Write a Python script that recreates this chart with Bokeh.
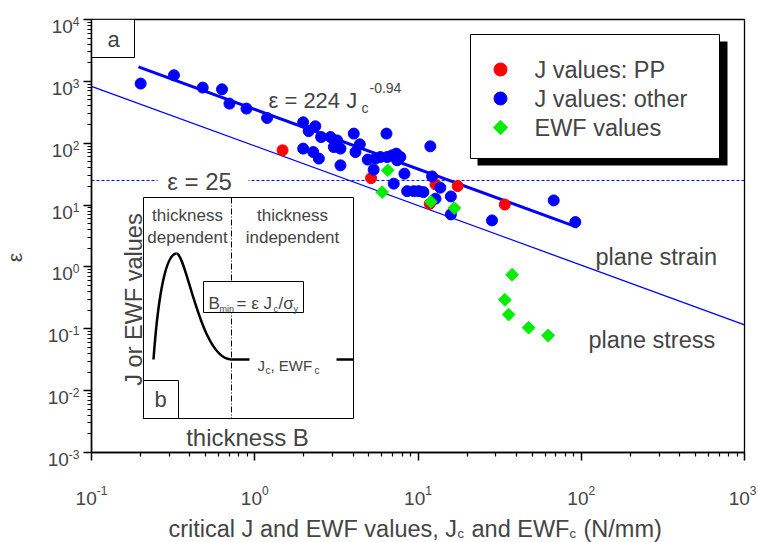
import numpy as np
from bokeh.plotting import figure
from bokeh.layouts import column, row
from bokeh.models import Range1d, LinearScale, LogScale, Label, FixedTicker, CustomJSTickFormatter
from bokeh.embed import file_html
from bokeh.resources import INLINE

# ---------------- data ----------------
j_other = [0.20, 0.32, 0.48, 0.63, 0.70, 0.89, 1.19, 1.98, 2.14, 2.35, 2.55, 2.91,
           3.20, 3.05, 3.35, 4.04, 4.40, 4.14, 1.98, 2.28, 2.47, 3.35, 6.41, 4.92,
           5.48, 5.88, 6.47, 6.94, 7.37, 7.45, 5.35, 7.10, 11.9, 7.80, 8.26, 12.2,
           8.58, 9.41, 10.1, 10.8, 13.7, 15.9, 12.8, 15.9, 67.8, 28.4, 92.0]
eps_other = [921, 1255, 793, 745, 437, 363, 256, 218, 157, 188, 126, 126,
             111, 86.8, 81.8, 143, 96, 72, 81.8, 72, 56.4, 43.9, 143, 54.3,
             56.4, 59.8, 59.8, 63.7, 67.9, 52.9, 37.4, 22.2, 89.1, 59.8, 32.2, 29.1,
             16.8, 16.8, 16.8, 16.2, 19.1, 13.8, 12.7, 7.07, 11.9, 5.65, 5.31]
j_pp = [1.48, 5.16, 12.8, 17.5, 11.8, 34.0]
eps_pp = [76.8, 27.3, 21.6, 20.3, 10.5, 10.2]
j_ewf = [6.52, 6.03, 12.0, 16.7, 37.7, 34.0, 35.9, 47.6, 62.6]
eps_ewf = [36.4, 16.2, 11.3, 8.94, 0.748, 0.295, 0.170, 0.104, 0.0779]

# fitted line (plane strain data) and plane strain / plane stress boundary
fit_j = [0.194, 94.3]
fit_eps = [1710, 4.4]
bound_j = [0.1, 1000]
bound_eps = [833, 0.116]
eps_limit = 25

x_ticks = [0.1, 1, 10, 100, 1000]
y_ticks = [1e-3, 1e-2, 1e-1, 1, 10, 100, 1e3, 1e4]
legend_labels = ["J values: PP", "J values: other", "EWF values"]

# ---------------- styling / layout ----------------
FONT = "Liberation Sans"
BLUE = "#0000ff"
RED = "#ff0000"
GREEN = "#00ee00"

W, H = 758, 542            # whole page
L, R, T, B = 91, 744, 19, 452   # plot frame in page pixels
WL = 80                    # width of left strip (tick labels + axis title)
BB = 24                    # bottom border of main figure (for ticks)
HM = B + BB                # main figure height
HB = H - HM                # bottom strip height

def lbl(**kw):
    kw.setdefault("text_font", FONT)
    kw.setdefault("text_align", "left")
    kw.setdefault("text_baseline", "alphabetic")
    return Label(**kw)

def strip(width, height, xr, yr):
    f = figure(width=width, height=height, x_range=xr, y_range=yr,
               x_axis_location=None, y_axis_location=None,
               output_backend="svg", toolbar_location=None,
               min_border_left=0, min_border_right=0,
               min_border_top=0, min_border_bottom=0, frame_align=False)
    f.outline_line_color = None
    f.xgrid.visible = False
    f.ygrid.visible = False
    return f

# ================= main figure =================
p = figure(width=W - WL, height=HM, x_axis_type="log", y_axis_type="log",
           x_range=Range1d(x_ticks[0], x_ticks[-1]),
           y_range=Range1d(y_ticks[0], y_ticks[-1]),
           output_backend="svg", toolbar_location=None,
           min_border_left=L - WL, min_border_right=W - R,
           min_border_top=T, min_border_bottom=BB, frame_align=False)
p.grid.visible = False
p.outline_line_color = "black"
p.outline_line_width = 1.3

# page-pixel coordinate system for decorations inside the frame
p.extra_x_ranges = {"px": Range1d(L, R)}
p.extra_y_ranges = {"py": Range1d(B, T)}
p.extra_x_scales = {"px": LinearScale()}
p.extra_y_scales = {"py": LinearScale()}
PX = dict(x_range_name="px", y_range_name="py")

def minors(ticks):
    out = []
    for t in ticks[:-1]:
        out += [m * t for m in range(2, 10)]
    return out

blank = CustomJSTickFormatter(code="return ''")
for ax, ticks in ((p.xaxis[0], x_ticks), (p.yaxis[0], y_ticks)):
    ax.ticker = FixedTicker(ticks=ticks, minor_ticks=minors(ticks))
    ax.formatter = blank
    ax.major_label_text_font_size = "2px"
    ax.major_label_standoff = 0
    ax.axis_line_width = 1.5
    ax.major_tick_line_width = 1.5
    ax.minor_tick_line_width = 1.2
    ax.major_tick_in = 0
    ax.major_tick_out = 8
    ax.minor_tick_in = 0
    ax.minor_tick_out = 4

# ---------------- main lines ----------------
p.line(bound_j, bound_eps, line_color=BLUE, line_width=1.3)
p.line(fit_j, fit_eps, line_color=BLUE, line_width=3)
p.line([x_ticks[0], x_ticks[-1]], [eps_limit, eps_limit], line_color=BLUE,
       line_width=1, line_dash="3 2")
p.quad(left=[157], right=[248], top=[171], bottom=[190], fill_color="white",
       line_color=None, **PX)

# ---------------- data ----------------
p.scatter(j_pp, eps_pp, marker="circle", size=11, fill_color=RED, line_color=RED)
p.scatter(j_other, eps_other, marker="circle", size=11, fill_color=BLUE, line_color=BLUE)
p.scatter(j_ewf, eps_ewf, marker="square", angle=np.pi / 4, size=9,
          fill_color=GREEN, line_color=GREEN)

# ---------------- panel "a" box ----------------
p.quad(left=[L], right=[134], top=[T], bottom=[57], fill_color="white",
       line_color="black", line_width=1, **PX)
p.add_layout(lbl(x=113, y=39, text="a", text_align="center", text_baseline="middle",
                 text_font_size="22px", **PX))

# ---------------- legend ----------------
p.quad(left=[477], right=[727], top=[41], bottom=[165], fill_color="black",
       line_color=None, **PX)
p.quad(left=[470], right=[719], top=[34], bottom=[158], fill_color="white",
       line_color="black", line_width=1, **PX)
leg_y = [69, 98, 127]
p.scatter([500], [leg_y[0]], marker="circle", size=13, fill_color=RED, line_color=RED, **PX)
p.scatter([500], [leg_y[1]], marker="circle", size=13, fill_color=BLUE, line_color=BLUE, **PX)
p.scatter([500], [leg_y[2]], marker="square", angle=np.pi / 4, size=10,
          fill_color=GREEN, line_color=GREEN, **PX)
for yy, txt in zip(leg_y, legend_labels):
    p.add_layout(lbl(x=534, y=yy, text=txt, text_baseline="middle",
                     text_font_size="23.5px", **PX))

# ---------------- annotations ----------------
p.add_layout(lbl(x=268, y=100, text="ε = 224 J", text_font_size="22px", **PX))
p.add_layout(lbl(x=361, y=107, text="c", text_font_size="14px", **PX))
p.add_layout(lbl(x=369, y=87, text="-0.94", text_font_size="14px", **PX))
p.add_layout(lbl(x=199, y=181, text="ε = 25", text_align="center", text_baseline="middle",
                 text_font_size="24px", **PX))
p.add_layout(lbl(x=595, y=256, text="plane strain", text_font_size="23.5px", **PX))
p.add_layout(lbl(x=588, y=339, text="plane stress", text_font_size="23.5px", **PX))

# ---------------- inset b ----------------
p.quad(left=[143], right=[353], top=[197], bottom=[418], fill_color="white",
       line_color="black", line_width=1, **PX)
p.line([231, 231], [197, 418], line_color="black", line_width=1, line_dash="6 2 1 2", **PX)
p.bezier(x0=[153], y0=[359], x1=[176], y1=[253], cx0=[158], cy0=[290], cx1=[166], cy1=[253],
         line_color="black", line_width=2.5, **PX)
p.bezier(x0=[176], y0=[253], x1=[231], y1=[359], cx0=[186], cy0=[253], cx1=[200], cy1=[359],
         line_color="black", line_width=2.5, **PX)
p.segment(x0=[231, 336], y0=[359, 359], x1=[249, 353], y1=[359, 359],
          line_color="black", line_width=2.5, **PX)
p.quad(left=[203], right=[303], top=[281], bottom=[312], fill_color="white",
       line_color="black", line_width=1, **PX)
p.quad(left=[143], right=[178], top=[380], bottom=[418], fill_color="white",
       line_color="black", line_width=1, **PX)
p.add_layout(lbl(x=160, y=399, text="b", text_align="center", text_baseline="middle",
                 text_font_size="22px", **PX))
for xx, t1, t2 in ((187, "thickness", "dependent"), (292, "thickness", "independent")):
    p.add_layout(lbl(x=xx, y=215, text=t1, text_align="center", text_baseline="middle",
                     text_font_size="17px", **PX))
    p.add_layout(lbl(x=xx, y=237, text=t2, text_align="center", text_baseline="middle",
                     text_font_size="17px", **PX))
# B_min = eps Jc / sigma_y
p.add_layout(lbl(x=208, y=303, text="B", text_font_size="17px", **PX))
p.add_layout(lbl(x=219, y=308, text="min", text_font_size="9px", **PX))
p.add_layout(lbl(x=236, y=303, text="= ε J", text_font_size="17px", **PX))
p.add_layout(lbl(x=273, y=308, text="c", text_font_size="9px", **PX))
p.add_layout(lbl(x=278, y=303, text="/σ", text_font_size="17px", **PX))
p.add_layout(lbl(x=293, y=308, text="y", text_font_size="9px", **PX))
# Jc, EWFc
p.add_layout(lbl(x=257, y=365, text="J", text_font_size="15px", **PX))
p.add_layout(lbl(x=265, y=370, text="c", text_font_size="10px", **PX))
p.add_layout(lbl(x=270, y=365, text=", EWF", text_font_size="15px", **PX))
p.add_layout(lbl(x=314, y=370, text="c", text_font_size="10px", **PX))
p.add_layout(lbl(x=133, y=299, text="J or EWF values", angle=np.pi / 2, text_align="center",
                 text_baseline="middle", text_font_size="23.5px", **PX))
p.add_layout(lbl(x=247, y=437, text="thickness B", text_align="center",
                 text_font_size="24px", **PX))

def sup_width(s, size):
    return sum((0.333 if c == "-" else 0.556) * size for c in s)

# ================= left strip: y tick labels and axis title =================
dec_per_px_y = (np.log10(y_ticks[-1]) - np.log10(y_ticks[0])) / (B - T)
pl = strip(WL, HM, Range1d(0, WL), Range1d(HM, 0))
pl.extra_y_ranges = {"log": Range1d(10 ** (np.log10(y_ticks[0]) - (HM - B) * dec_per_px_y),
                                    10 ** (np.log10(y_ticks[-1]) + T * dec_per_px_y))}
pl.extra_y_scales = {"log": LogScale()}
for t in y_ticks:
    e = str(int(round(np.log10(t))))
    sw = sup_width(e, 12)
    pl.add_layout(lbl(x=79, y=t, y_range_name="log", y_offset=-2, text=e, text_align="right",
                      text_font_size="12px"))
    pl.add_layout(lbl(x=79 - sw, y=t, y_range_name="log", y_offset=-7, text="10",
                      text_align="right", text_font_size="19px"))
pl.add_layout(lbl(x=14, y=257, text="ε", angle=np.pi / 2, text_align="center",
                  text_baseline="middle", text_font_size="21px"))

# ================= bottom strip: x tick labels and axis title =================
dec_per_px_x = (np.log10(x_ticks[-1]) - np.log10(x_ticks[0])) / (R - L)
pb = strip(W, HB, Range1d(0, W), Range1d(H, HM))
pb.extra_x_ranges = {"log": Range1d(10 ** (np.log10(x_ticks[0]) - L * dec_per_px_x),
                                    10 ** (np.log10(x_ticks[-1]) + (W - R) * dec_per_px_x))}
pb.extra_x_scales = {"log": LogScale()}
w10 = 2 * 0.556 * 19
for t in x_ticks:
    e = str(int(round(np.log10(t))))
    sw = sup_width(e, 12)
    left_off = -(w10 + sw) / 2
    t_px = L + (np.log10(t) - np.log10(x_ticks[0])) / dec_per_px_x
    overflow = t_px + left_off + w10 + sw - (W - 2)
    if overflow > 0:
        left_off -= overflow
    pb.add_layout(lbl(x=t, x_range_name="log", x_offset=float(left_off), y=498, text="10",
                      text_font_size="19px"))
    pb.add_layout(lbl(x=t, x_range_name="log", x_offset=float(left_off + w10), y=490, text=e,
                      text_font_size="12px"))

pb.add_layout(lbl(x=168, y=528, text="critical J and EWF values, J", text_font_size="23.5px"))
pb.add_layout(lbl(x=457, y=533, text="c", text_font_size="13px"))
pb.add_layout(lbl(x=471, y=528, text="and EWF", text_font_size="23.5px"))
pb.add_layout(lbl(x=569, y=533, text="c", text_font_size="13px"))
pb.add_layout(lbl(x=583, y=528, text="(N/mm)", text_font_size="23.5px"))

layout = column(row(pl, p), pb)
open("out.html", "w").write(file_html(layout, INLINE))
